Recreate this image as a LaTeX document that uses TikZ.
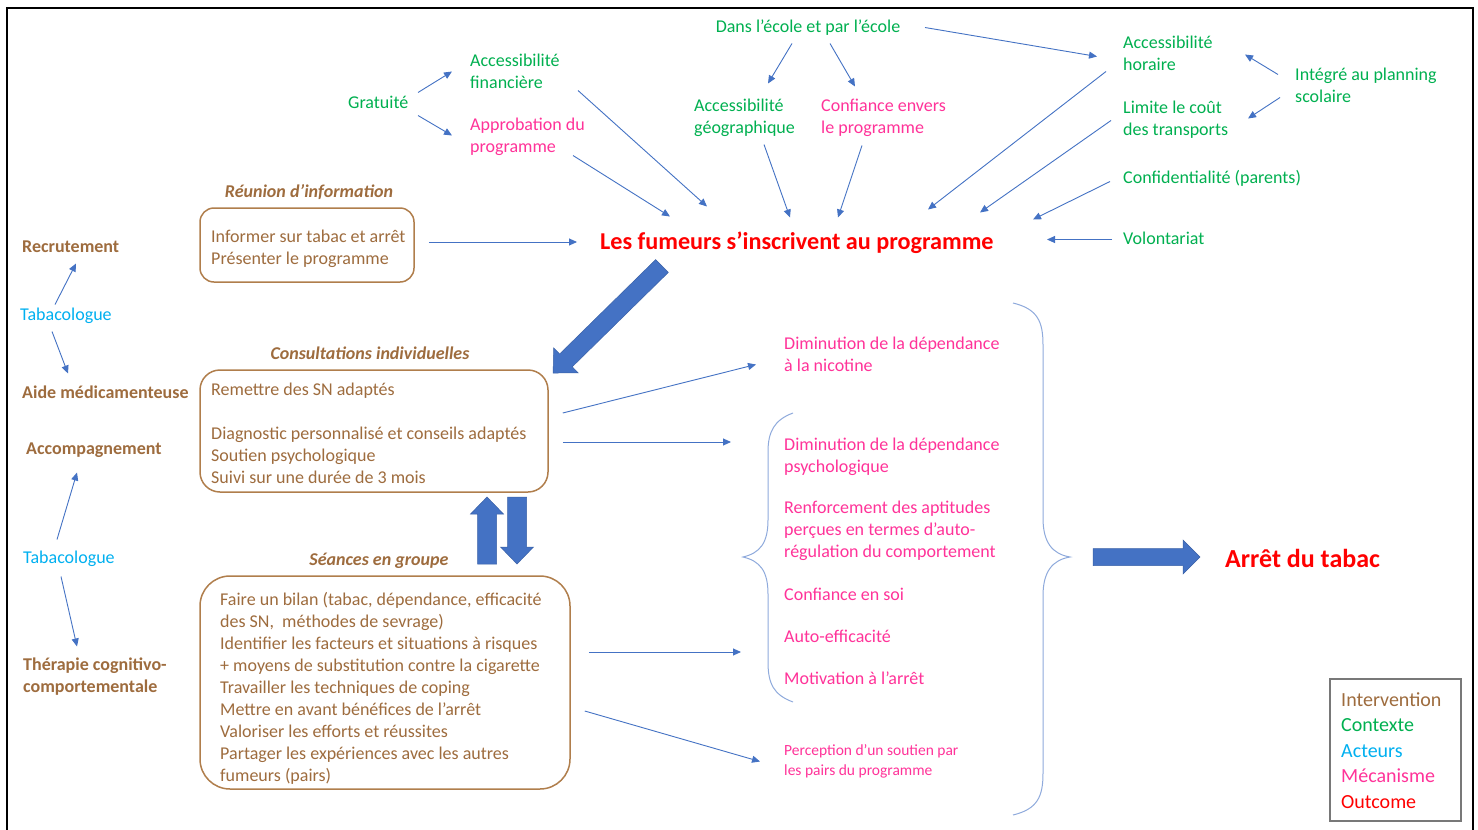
\documentclass[tikz,border=0pt]{standalone}
\usepackage{fontspec}
\setmainfont{Carlito}
\usetikzlibrary{arrows.meta,calc}
\definecolor{brn}{RGB}{158,108,62}
\definecolor{boxbrn}{RGB}{176,126,76}
\definecolor{grn}{RGB}{0,176,80}
\definecolor{cyn}{RGB}{0,176,240}
\definecolor{pnk}{RGB}{255,51,153}
\definecolor{rd}{RGB}{255,0,0}
\definecolor{arrowblue}{RGB}{68,114,196}
\definecolor{braceblue}{RGB}{143,170,220}
\definecolor{legendgray}{RGB}{120,120,120}
\newcommand{\blkarrow}[7]{%
  \begin{scope}[shift={(#1,#2)},rotate=#3]
    \filldraw[fill=arrowblue,draw=arrowblue!85!black,line width=0.5pt]
      (0,-#6) -- ({#4-#5},-#6) -- ({#4-#5},-#7) -- (#4,0) -- ({#4-#5},#7) -- ({#4-#5},#6) -- (0,#6) -- cycle;
  \end{scope}}
\begin{document}
\begin{tikzpicture}[x=1pt,y=-1pt,
  txt/.style={inner sep=0pt, anchor=west, align=left, yshift=-1.5pt, font=\fontsize{18}{22}\selectfont},
  ctx/.style={txt, text=grn},
  mech/.style={txt, text=pnk},
  actor/.style={txt, text=cyn},
  interv/.style={txt, text=brn, font=\fontsize{18}{22}\selectfont\bfseries},
  boxtxt/.style={txt, text=brn},
  boxtitle/.style={inner sep=0pt, yshift=-1.5pt, text=brn, font=\fontsize{18}{22}\selectfont\bfseries\itshape},
  ibox/.style={draw=boxbrn, line width=1.5pt, rounded corners=14pt, inner sep=0pt},
  conn/.style={draw=arrowblue, line width=0.9pt, -{Triangle[length=8pt,width=7pt]}},
  brace/.style={draw=braceblue, line width=1pt},
]
\useasboundingbox (0,0) rectangle (1478,830);
\fill[white] (0,0) rectangle (1478,830);
\draw[line width=2pt] (7,832) -- (7,8) -- (1473,8) -- (1473,832);

% context / mechanisms top
\node[ctx, anchor=center] (dans) at (808,26) {Dans l’école et par l’école};
\node[ctx] (accfin) at (470,70) {Accessibilité\\financière};
\node[ctx] (gratuite) at (348,101) {Gratuité};
\node[mech] (approb) at (470,135) {Approbation du\\programme};
\node[ctx] (accgeo) at (694,116) {Accessibilité\\géographique};
\node[mech] (confiance) at (821,116) {Confiance envers\\le programme};
\node[ctx] (acchor) at (1123,52) {Accessibilité\\horaire};
\node[ctx] (integre) at (1295,84) {Intégré au planning\\scolaire};
\node[ctx] (limite) at (1123,118) {Limite le coût\\des transports};
\node[ctx] (confid) at (1123,177) {Confidentialité (parents)};
\node[ctx] (volont) at (1123,237) {Volontariat};
\node[txt, text=rd, font=\fontsize{24.2}{28}\selectfont\bfseries] (fumeurs) at (600,241) {Les fumeurs s’inscrivent au programme};

% intervention boxes
\node[boxtitle] (reuniontitle) at (309,191) {Réunion d’information};
\node[ibox, minimum width=214pt, minimum height=74pt] (reunionbox) at (307,245) {};
\node[boxtxt] (reuniontxt) at (211,247) {Informer sur tabac et arrêt\\Présenter le programme};

\node[boxtitle] (consulttitle) at (370,352) {Consultations individuelles};
\node[ibox, rounded corners=20pt, minimum width=348pt, minimum height=122pt] (consultbox) at (374,431) {};
\node[boxtxt] (consulttxt) at (211,432) {Remettre des SN adaptés\\[22pt]Diagnostic personnalisé et conseils adaptés\\Soutien psychologique\\Suivi sur une durée de 3 mois};

\node[boxtitle] (seancestitle) at (379,559) {Séances en groupe};
\node[ibox, rounded corners=30pt, minimum width=370pt, minimum height=213pt] (seancesbox) at (385,682.5) {};
\node[boxtxt] (seancestxt) at (220,687) {Faire un bilan (tabac, dépendance, efficacité\\des SN,\ \ méthodes de sevrage)\\Identifier les facteurs et situations à risques\\+ moyens de substitution contre la cigarette\\Travailler les techniques de coping\\Mettre en avant bénéfices de l’arrêt\\Valoriser les efforts et réussites\\Partager les expériences avec les autres\\fumeurs (pairs)};

% left column
\node[interv] (recrut) at (22,245) {Recrutement};
\node[actor] (tab1) at (20,314) {Tabacologue};
\node[interv] (aide) at (22,391) {Aide médicamenteuse};
\node[interv] (accomp) at (26,449) {Accompagnement};
\node[actor] (tab2) at (23,557) {Tabacologue};
\node[interv] (therapie) at (23,675) {Thérapie cognitivo-\\comportementale};

% mechanisms right
\node[mech] (nicotine) at (784,353) {Diminution de la dépendance\\à la nicotine};
\node[mech] (psycho) at (784,455) {Diminution de la dépendance\\psychologique};
\node[mech] (renfo) at (784,529) {Renforcement des aptitudes\\perçues en termes d’auto-\\régulation du comportement};
\node[mech] (confsoi) at (784,593) {Confiance en soi};
\node[mech] (autoeff) at (784,635) {Auto-efficacité};
\node[mech] (motiv) at (784,677) {Motivation à l’arrêt};
\node[mech, font=\fontsize{15.5}{20}\selectfont] (percep) at (784,760) {Perception d’un soutien par\\les pairs du programme};

\node[txt, text=rd, font=\fontsize{26}{30}\selectfont\bfseries] (arret) at (1225,557) {Arrêt du tabac};

% legend
\node[draw=legendgray, line width=1.5pt, minimum width=131pt, minimum height=142pt, inner sep=0pt] (legendbox) at (1395.5,750) {};
\node[txt, font=\fontsize{20}{25.5}\selectfont] (legendtxt) at (1341,749) {\textcolor{brn}{Intervention}\\\textcolor{grn}{Contexte}\\\textcolor{cyn}{Acteurs}\\\textcolor{pnk}{Mécanisme}\\\textcolor{rd}{Outcome}};

% braces
\draw[brace] (1013,303) .. controls (1038,309) and (1043,322) .. (1043,345) -- (1043,518) .. controls (1043,542) and (1052,554) .. (1070,557) .. controls (1052,560) and (1043,572) .. (1043,596) -- (1043,773) .. controls (1043,796) and (1038,809) .. (1013,815);
\draw[brace] (793,413) .. controls (774,420) and (768,432) .. (768,452) -- (768,520) .. controls (768,543) and (760,553) .. (743,557) .. controls (760,561) and (768,571) .. (768,594) -- (768,662) .. controls (768,684) and (774,695) .. (793,702);
\coordinate (bracein1) at (731,442);
\coordinate (bracein2) at (741,652);

% connectors
\draw[conn] ($(gratuite.west)+(70,-10)$) -- ($(accfin.west)+(-18,0)$);
\draw[conn] ($(gratuite.west)+(70,13)$) -- ($(approb.west)+(-18,-1)$);
\draw[conn] ($(dans.center)+(-16,16)$) -- ($(accgeo.west)+(74,-34)$);
\draw[conn] ($(dans.center)+(22,16)$) -- ($(confiance.west)+(34,-31)$);
\draw[conn] ($(dans.center)+(117,0)$) -- ($(acchor.west)+(-26,3)$);
\draw[conn] ($(integre.west)+(-17,-11)$) -- ($(acchor.west)+(122,1)$);
\draw[conn] ($(integre.west)+(-15,12)$) -- ($(limite.west)+(125,-1)$);
\draw[conn] ($(accfin.west)+(108,19)$) -- ($(fumeurs.west)+(107,-36)$);
\draw[conn] ($(approb.west)+(103,19)$) -- ($(fumeurs.west)+(70,-26)$);
\draw[conn] ($(accgeo.west)+(70,27)$) -- ($(fumeurs.west)+(190,-25)$);
\draw[conn] ($(confiance.west)+(41,28)$) -- ($(fumeurs.west)+(238,-25)$);
\draw[conn] ($(acchor.west)+(-17,18)$) -- ($(fumeurs.west)+(328,-33)$);
\draw[conn] ($(limite.west)+(-12,1)$) -- ($(fumeurs.west)+(380,-30)$);
\draw[conn] ($(confid.west)+(-13,3)$) -- ($(fumeurs.west)+(433,-23)$);
\draw[conn] ($(volont.west)+(-11,1)$) -- ($(fumeurs.west)+(447,-3)$);
\draw[conn] ($(reunionbox.east)+(14,-3)$) -- ($(fumeurs.west)+(-23,-0.5)$);
\draw[conn] ($(tab1.west)+(35,-11)$) -- ($(recrut.west)+(54,17)$);
\draw[conn] ($(tab1.west)+(32,16)$) -- ($(aide.west)+(46,-19)$);
\draw[conn] ($(tab2.west)+(34,-19)$) -- ($(accomp.west)+(51,22)$);
\draw[conn] ($(tab2.west)+(38,18)$) -- ($(therapie.west)+(54,-30)$);
\draw[conn] ($(consultbox.east)+(14,-18)$) -- ($(nicotine.west)+(-28,10)$);
\draw[conn] ($(consultbox.east)+(14,11)$) -- (bracein1);
\draw[conn] ($(seancesbox.east)+(18,-30.5)$) -- (bracein2);
\draw[conn] ($(seancesbox.east)+(14,28.5)$) -- ($(percep.west)+(-24,0)$);

% block arrows
\blkarrow{662}{266}{224.5}{152.7}{18}{9}{17.5}
\blkarrow{487}{564}{90}{67}{17}{9.5}{16.5}
\blkarrow{517}{497}{-90}{67}{17}{9.5}{16.5}
\blkarrow{1093}{557}{0}{107}{17}{8.5}{17}
\end{tikzpicture}
\end{document}
